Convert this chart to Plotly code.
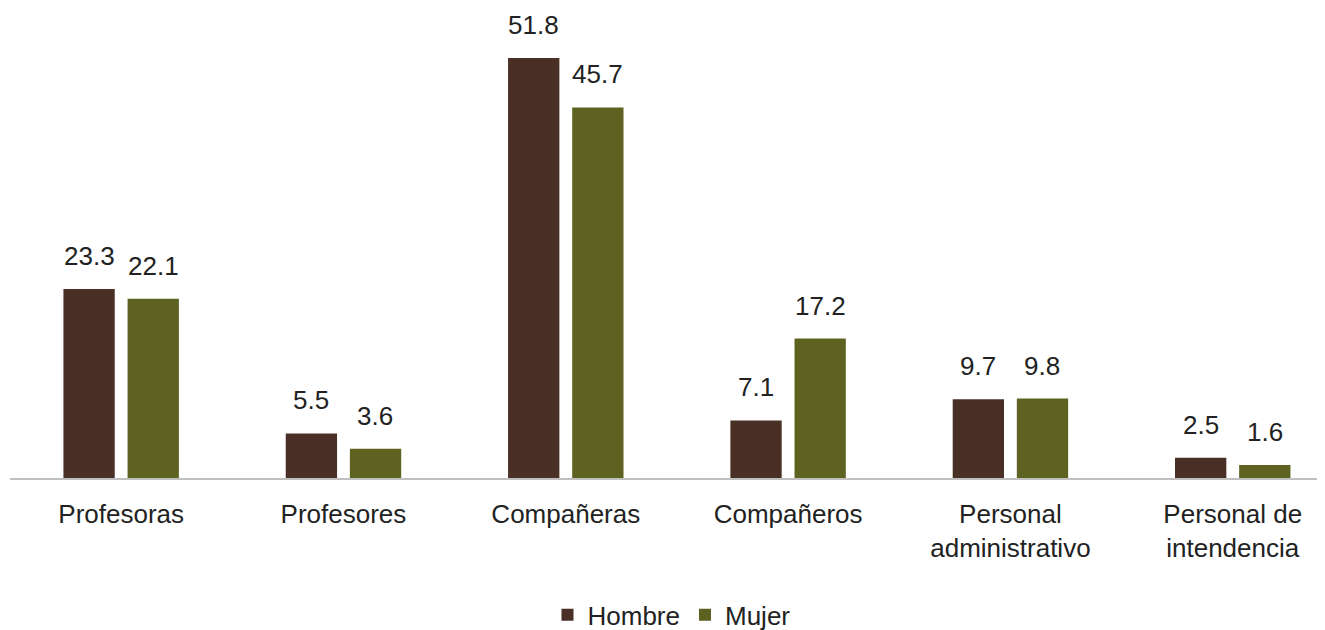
import plotly.graph_objects as go

categorias = ["Profesoras", "Profesores", "Compañeras", "Compañeros",
              "Personal<br>administrativo", "Personal de<br>intendencia"]
hombre = [23.3, 5.5, 51.8, 7.1, 9.7, 2.5]
mujer = [22.1, 3.6, 45.7, 17.2, 9.8, 1.6]

series = [("Hombre", hombre, "#4a2f27", -32),
          ("Mujer", mujer, "#5e6221", 32)]

fig = go.Figure()
annotations = []
for nombre, valores, color, dx in series:
    fig.add_trace(go.Bar(x=categorias, y=valores, name=nombre,
                         marker=dict(color=color, line=dict(width=0))))
    for c, v in zip(categorias, valores):
        annotations.append(dict(x=c, y=v, text=f"{v:.1f}", showarrow=False,
                                xref="x", yref="y", xshift=dx, yshift=16,
                                yanchor="bottom",
                                font=dict(size=26, color="#222222")))

# the page adds an 8 px body margin, so the margins are trimmed by 8 px
fig.update_layout(
    width=1325, height=630,
    margin=dict(l=2, r=0, t=12, b=160, autoexpand=False),
    paper_bgcolor="white", plot_bgcolor="white",
    font=dict(family="Liberation Sans, Arial, sans-serif", size=26, color="#222222"),
    barmode="group", bargap=0.423, bargroupgap=0.2,
    annotations=annotations,
    showlegend=True,
    legend=dict(orientation="h", x=0.5, xanchor="center", y=-0.299, yanchor="middle",
                font=dict(size=26, color="#222222"), itemwidth=30,
                tracegroupgap=0),
)
fig.update_xaxes(range=[-0.5, 5.451], showline=True, linecolor="#bfbfbf",
                 linewidth=2, ticks="", ticklabelstandoff=12, automargin=False,
                 showgrid=False, tickfont=dict(size=26))
fig.update_yaxes(range=[0, 56.49], visible=False, showgrid=False)

fig.write_html("out.html")
